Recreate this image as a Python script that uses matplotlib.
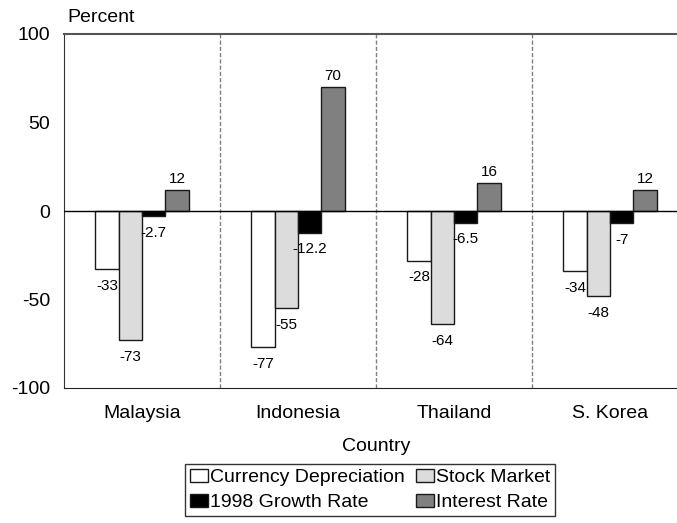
import matplotlib
matplotlib.use('Agg')
import matplotlib.pyplot as plt
import numpy as np

plt.rcParams['font.family'] = ['Liberation Sans', 'DejaVu Sans']
plt.rcParams['axes.unicode_minus'] = False

countries = ['Malaysia', 'Indonesia', 'Thailand', 'S. Korea']
currency = [-33, -77, -28, -34]
stock = [-73, -55, -64, -48]
growth = [-2.7, -12.2, -6.5, -7]
interest = [12, 70, 16, 12]

series = [
    ('Currency Depreciation', currency, '#ffffff'),
    ('Stock Market', stock, '#dcdcdc'),
    ('1998 Growth Rate', growth, '#000000'),
    ('Interest Rate', interest, '#808080'),
]

W, H = 677, 523
fig = plt.figure(figsize=(W / 100, H / 100), dpi=100)
ax = fig.add_axes([64 / W, 1 - 388 / H, (688 - 64) / W, (388 - 34) / H])

x = np.arange(len(countries)) + 0.5
width = 0.15
handles = {}
for i, (name, vals, color) in enumerate(series):
    pos = x + (i - 1.5) * width
    bars = ax.bar(pos, vals, width, color=color, edgecolor='#1a1a1a', linewidth=1, label=name, zorder=3)
    handles[name] = bars
    for p, v in zip(pos, vals):
        lab = ('%g' % v)
        if v < 0:
            ax.annotate(lab, (p, v), xytext=(0, -7), textcoords='offset points',
                        ha='center', va='top', fontsize=11)
        else:
            ax.annotate(lab, (p, v), xytext=(0, 3), textcoords='offset points',
                        ha='center', va='bottom', fontsize=11)

ax.set_xlim(0, 4)
ax.set_ylim(-100, 100)
ax.set_yticks([-100, -50, 0, 50, 100])
ax.set_xticks(x)
ax.set_xticklabels(countries)
ax.tick_params(axis='both', length=0, labelsize=14)
ax.tick_params(axis='y', pad=10)
ax.tick_params(axis='x', pad=12)

ax.axhline(0, color='black', linewidth=1, zorder=4)
for b in [1, 2, 3]:
    ax.axvline(b, color='#808080', linestyle=(0, (3, 1.5)), linewidth=1, zorder=1)

ax.spines['top'].set_color('#555555')
ax.spines['top'].set_linewidth(1.5)
ax.spines['left'].set_color('#333333')
ax.spines['bottom'].set_color('#222222')
ax.spines['right'].set_visible(False)

ax.set_xlabel('Country', fontsize=14, labelpad=12)
fig.text(67 / W, 1 - 18 / H, 'Percent', fontsize=14, ha='left', va='center')

order = ['Currency Depreciation', '1998 Growth Rate', 'Stock Market', 'Interest Rate']
leg = ax.legend([handles[n] for n in order], order, ncol=2, loc='center',
                bbox_to_anchor=((370 - 64) / (688 - 64), -(490 - 388) / (388 - 34)),
                fontsize=14, frameon=True, fancybox=False, edgecolor='black',
                handlelength=0.9, handleheight=0.7, handletextpad=0.1,
                columnspacing=0.6, labelspacing=0.4, borderpad=0.25, borderaxespad=0)
leg.get_frame().set_linewidth(1)

fig.savefig('out.png', dpi=100)
